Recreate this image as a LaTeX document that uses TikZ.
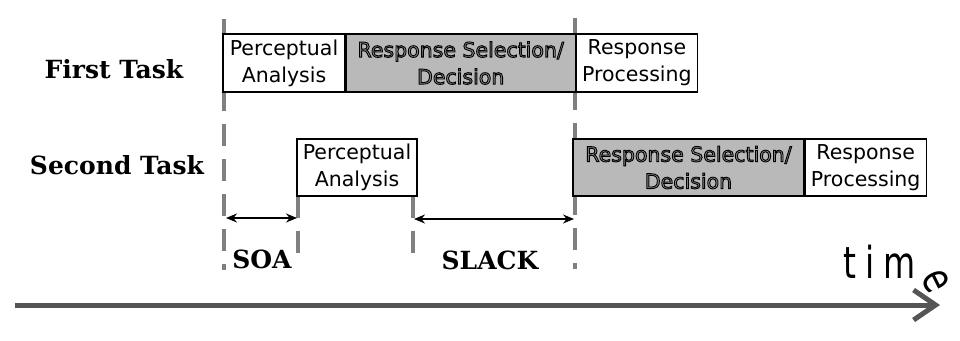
\documentclass[tikz,border=0pt]{standalone}
\usepackage{fontspec}
\setmainfont{DejaVu Sans}
\newfontfamily\labelserif{DejaVu Serif}
\newfontfamily\timefont[FakeStretch=0.75]{DejaVu Sans}
\usetikzlibrary{arrows.meta,decorations.text}
\definecolor{boxgray}{RGB}{185,185,185}
\definecolor{outlinefill}{RGB}{140,140,140}
\definecolor{dashgray}{RGB}{128,128,128}
\definecolor{axisgray}{RGB}{85,85,85}
\newcommand\outlinedtext{\special{pdf:literal direct 2 Tr 0 G 0.9 w}}
\newcommand\boxfont{\fontsize{20.5}{27}\selectfont}
\tikzset{
  taskbox/.style={draw=black, line width=1.2pt, fill=white, inner sep=0pt,
    align=center, minimum height=58pt, font=\boxfont},
  graybox/.style={taskbox, fill=boxgray, font=\boxfont\color{outlinefill}\outlinedtext},
  tasklabel/.style={font=\labelserif\bfseries\fontsize{25}{29}\selectfont, anchor=base, inner sep=0pt},
  vline/.style={draw=dashgray, line width=4pt, dash pattern=on 22pt off 13pt},
  gaparrow/.style={line width=1.6pt, {Stealth[length=11pt,width=9pt]}-{Stealth[length=11pt,width=9pt]}},
  timeaxis/.style={draw=axisgray, line width=5pt, -{Straight Barb[length=22pt,width=30pt]}}
}
\begin{document}
\begin{tikzpicture}[x=1pt,y=-1pt]
\useasboundingbox (0,0) rectangle (960,340);
% dashed guide lines
\coordinate (l1top) at (224,19);
\coordinate (l1bot) at (224,270);
\coordinate (l2top) at (575,18);
\coordinate (l2bot) at (575,269);
\coordinate (s1top) at (298,196);
\coordinate (s1bot) at (298,254);
\coordinate (s2top) at (413,196);
\coordinate (s2bot) at (413,254);
\draw[vline] (l1top) -- (l1bot);
\draw[vline] (l2top) -- (l2bot);
\draw[vline] (s1top) -- (s1bot);
\draw[vline] (s2top) -- (s2bot);
% row labels
\node[tasklabel] (first) at (114,78) {First Task};
\node[tasklabel] (second) at (117,174) {Second Task};
% first task
\node[taskbox, minimum width=122pt] (pa1) at (284,63) {Perceptual\\Analysis};
\node[graybox, minimum width=229pt, anchor=west] (rsd1) at (pa1.east) {Response Selection/\\Decision};
\node[taskbox, minimum width=121pt, anchor=west] (rp1) at (rsd1.east) {Response\\Processing};
% second task
\node[taskbox, minimum width=120pt, minimum height=57pt] (pa2) at (357,167.5) {Perceptual\\Analysis};
\node[graybox, minimum width=231pt, minimum height=57pt] (rsd2) at (688.5,167.5) {Response Selection/\\Decision};
\node[taskbox, minimum width=121pt, minimum height=57pt, anchor=west] (rp2) at (rsd2.east) {Response\\Processing};
% gap arrows
\coordinate (soaL) at (226,218);
\coordinate (soaR) at (297,218);
\coordinate (slackL) at (414,219);
\coordinate (slackR) at (574,219);
\draw[gaparrow] (soaL) -- (soaR);
\draw[gaparrow] (slackL) -- (slackR);
\node[tasklabel] (soa) at (262,268) {SOA};
\node[tasklabel] (slack) at (490,269) {SLACK};
% time axis
\coordinate (axL) at (15,305);
\coordinate (axR) at (940,305);
\draw[timeaxis] (axL) -- (axR);
\path[decorate, decoration={text along path, text align=left,
  text={|\timefont\fontsize{44}{44}\selectfont|t{\kern10pt}i{\kern8pt}m{\kern3pt}e}}]
  (843,278) -- (914,278) .. controls (921,279) and (925,285) .. (928,296) -- (936,328);
\end{tikzpicture}
\end{document}
